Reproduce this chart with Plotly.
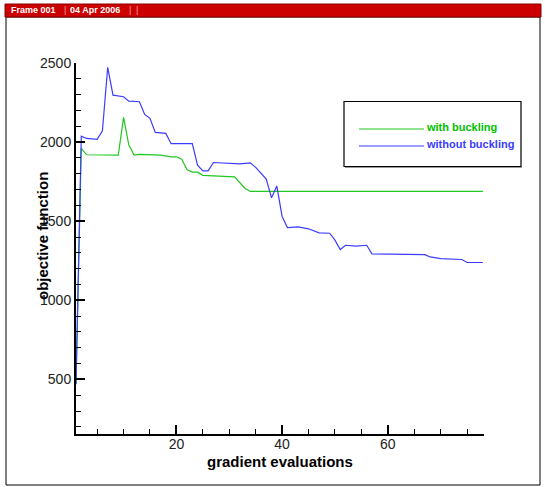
import plotly.graph_objects as go

# ---- data ----
x_with = [1, 2, 3, 9, 10, 11, 12, 13, 17, 19, 20, 21, 22, 23, 24, 25, 31, 33, 34, 78]
y_with = [470, 1960, 1920, 1918, 2156, 1981, 1918, 1922, 1918, 1907, 1907, 1892, 1826,
          1810, 1810, 1790, 1780, 1707, 1688, 1688]

x_without = [1, 2, 3, 5, 6, 7, 8, 10, 11, 13, 14, 15, 16, 18, 19, 23, 24, 25, 26, 27,
             32, 34, 35, 36, 37, 38, 39, 40, 41, 43, 45, 47, 49, 50, 51, 52, 54, 56, 57,
             67, 68, 70, 74, 75, 78]
y_without = [470, 2038, 2023, 2017, 2072, 2473, 2297, 2287, 2259, 2255, 2175, 2150, 2061,
             2055, 1990, 1990, 1854, 1818, 1818, 1871, 1863, 1869, 1840, 1806, 1766, 1648,
             1722, 1530, 1460, 1464, 1452, 1426, 1424, 1380, 1321, 1348, 1342, 1348, 1294,
             1289, 1274, 1264, 1258, 1239, 1239]

series_names = ["with buckling", "without buckling"]
x_ticks = [20, 40, 60]
y_ticks = [500, 1000, 1500, 2000, 2500]

GREEN = "#1ec81e"
BLUE = "#3c3cff"
FONT = "Liberation Sans, Arial, sans-serif"

# ---- page geometry (pixels) ----
W, H = 545, 487
L, R, T, B = 76, 484, 63, 434


def px(xp):
    return (xp - L) / (R - L)


def py(yp):
    return (B - yp) / (B - T)


fig = go.Figure()
fig.add_trace(go.Scatter(x=x_with, y=y_with, mode="lines", name=series_names[0],
                         line=dict(color=GREEN, width=1.2), showlegend=False))
fig.add_trace(go.Scatter(x=x_without, y=y_without, mode="lines", name=series_names[1],
                         line=dict(color=BLUE, width=1.2), showlegend=False))

shapes = [
    # outer frame
    dict(type="rect", xref="paper", yref="paper", x0=px(6), x1=px(540), y0=py(17), y1=py(485),
         line=dict(color="black", width=1), fillcolor="rgba(0,0,0,0)", layer="below"),
    # header bar
    dict(type="rect", xref="paper", yref="paper", x0=px(5), x1=px(541), y0=py(4), y1=py(17),
         line=dict(color="#8a0000", width=1), fillcolor="#cc0000"),
    # legend box
    dict(type="rect", xref="paper", yref="paper", x0=px(344), x1=px(521), y0=py(101.5), y1=py(166.5),
         line=dict(color="black", width=1.2), fillcolor="white"),
    dict(type="line", xref="paper", yref="paper", x0=px(345), x1=px(522), y0=py(167.5), y1=py(167.5),
         line=dict(color="#999999", width=1)),
    dict(type="line", xref="paper", yref="paper", x0=px(359), x1=px(424), y0=py(129), y1=py(129),
         line=dict(color=GREEN, width=1.2)),
    dict(type="line", xref="paper", yref="paper", x0=px(359), x1=px(424), y0=py(146), y1=py(146),
         line=dict(color=BLUE, width=1.2)),
]

annotations = [
    dict(xref="paper", yref="paper", x=px(9), y=py(10.5), xanchor="left", yanchor="middle",
         text="<b>Frame 001</b>", showarrow=False, font=dict(family=FONT, size=9, color="white")),
    dict(xref="paper", yref="paper", x=px(62), y=py(10.5), xanchor="left", yanchor="middle",
         text="|", showarrow=False, font=dict(family=FONT, size=9, color="#f4a0a0")),
    dict(xref="paper", yref="paper", x=px(68), y=py(10.5), xanchor="left", yanchor="middle",
         text="<b>04 Apr 2006</b>", showarrow=False, font=dict(family=FONT, size=9, color="white")),
    dict(xref="paper", yref="paper", x=px(127), y=py(10.5), xanchor="left", yanchor="middle",
         text="|", showarrow=False, font=dict(family=FONT, size=9, color="#f4a0a0")),
    dict(xref="paper", yref="paper", x=px(134), y=py(10.5), xanchor="left", yanchor="middle",
         text="|", showarrow=False, font=dict(family=FONT, size=9, color="#f4a0a0")),
    # legend texts
    dict(xref="paper", yref="paper", x=px(424), y=py(126.5), xanchor="left", yanchor="middle",
         text="<b>" + series_names[0] + "</b>", showarrow=False,
         font=dict(family=FONT, size=11, color="#00c000")),
    dict(xref="paper", yref="paper", x=px(424), y=py(143.5), xanchor="left", yanchor="middle",
         text="<b>" + series_names[1] + "</b>", showarrow=False,
         font=dict(family=FONT, size=11, color=BLUE)),
    # axis titles
    dict(xref="paper", yref="paper", x=px(280), y=py(461), xanchor="center", yanchor="middle",
         text="<b>gradient evaluations</b>", showarrow=False,
         font=dict(family=FONT, size=15, color="black")),
    dict(xref="paper", yref="paper", x=px(42), y=py(236), xanchor="center", yanchor="middle",
         text="<b>objective function</b>", showarrow=False, textangle=-90,
         font=dict(family=FONT, size=15, color="black")),
]

fig.update_layout(
    width=W, height=H,
    margin=dict(l=L, r=W - R, t=T, b=H - B, pad=0),
    paper_bgcolor="white", plot_bgcolor="white",
    font=dict(family=FONT, size=14, color="#222222"),
    shapes=shapes, annotations=annotations,
    showlegend=False,
    xaxis=dict(range=[1, 78.2], tickvals=x_ticks, ticks="inside", ticklen=9, tickwidth=2,
               tickcolor="black", showline=True, linecolor="black", linewidth=2,
               showgrid=False, zeroline=False, tickfont=dict(size=14), ticklabelstandoff=-4,
               minor=dict(dtick=5, tick0=0, ticks="inside", ticklen=5, tickwidth=1,
                          tickcolor="black", showgrid=False)),
    yaxis=dict(range=[155, 2500], tickvals=y_ticks, ticks="inside", ticklen=9, tickwidth=2,
               tickcolor="black", showline=True, linecolor="black", linewidth=2,
               showgrid=False, zeroline=False, tickfont=dict(size=14),
               minor=dict(dtick=100, tick0=0, ticks="inside", ticklen=5, tickwidth=1,
                          tickcolor="black", showgrid=False)),
)

fig.write_html("out.html", config={"displayModeBar": False},
               post_script="document.body.style.margin='0';")
